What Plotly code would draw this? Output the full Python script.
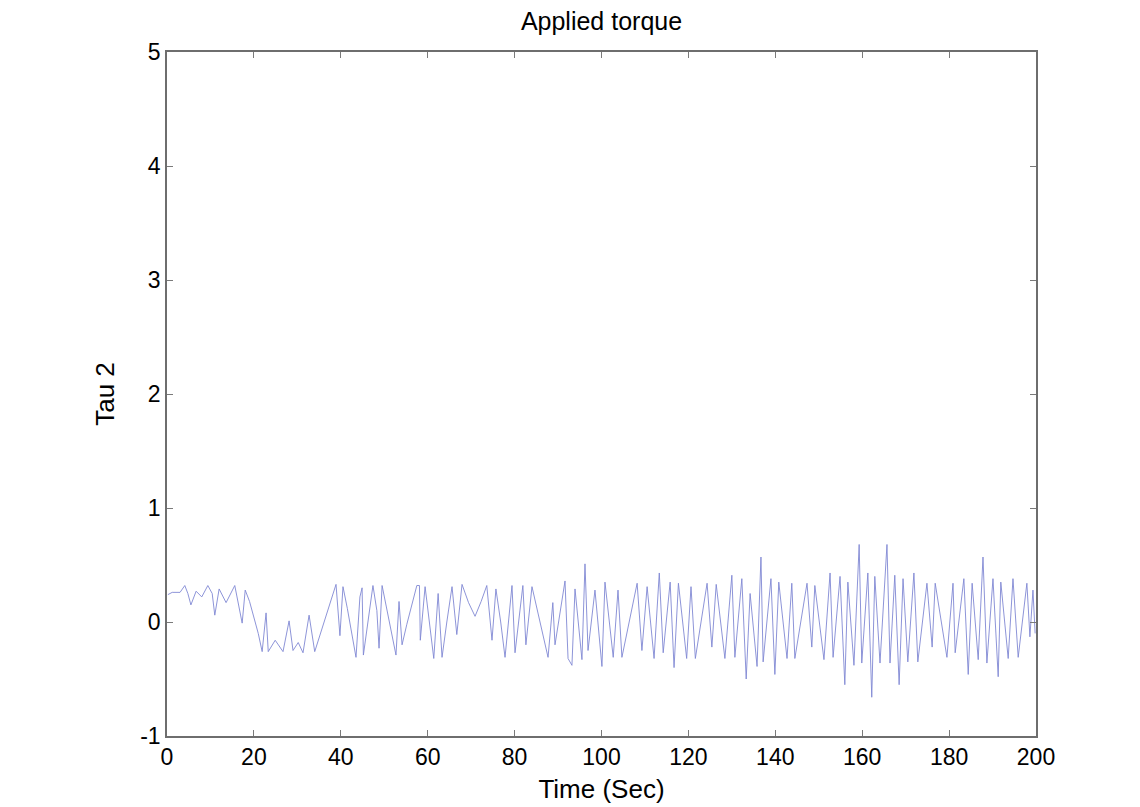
import plotly.graph_objects as go

# Hand-read vertices of the Tau 2 trace (time in s, torque)
time_s = [
    0.2, 1.2, 3.0, 4.1, 4.8, 5.5, 6.7, 8.0, 9.4, 10.4, 11.0, 12.0, 13.6, 15.6, 17.3, 18.0,
    19.0, 20.0, 21.0, 21.9, 22.8, 23.3, 24.9, 26.7, 28.1, 29.0, 30.2, 31.3, 32.7, 34.0,
    35.2, 36.4, 37.6, 38.9, 39.8, 40.5, 41.5, 42.5, 43.5, 44.4, 44.9, 45.2, 46.3, 47.4,
    48.3, 48.8, 49.5, 50.5, 51.6, 52.7, 53.4, 54.1, 55.2, 56.4, 57.5, 58.1, 58.3, 59.4,
    60.4, 61.4, 62.4, 63.3, 64.4, 65.6, 66.7, 67.9, 69.4, 70.9, 72.3, 73.6, 74.8, 75.7,
    76.8, 77.8, 79.4, 80.1, 81.9, 82.6, 84.0, 85.9, 87.7, 88.8, 89.3, 91.6, 92.3, 93.2,
    93.9, 95.5, 96.2, 96.9, 98.5, 100.1, 100.8, 102.7, 103.8, 104.7, 106.5, 108.2, 109.3,
    110.5, 112.1, 113.3, 114.2, 115.8, 116.7, 117.7, 119.6, 120.6, 121.6, 123.0, 124.3,
    125.4, 126.4, 128.4, 130.0, 130.7, 132.3, 133.3, 134.2, 135.8, 136.7, 137.2, 139.0,
    139.9, 140.8, 142.7, 143.8, 144.5, 146.0, 147.3, 148.4, 149.1, 151.2, 152.6, 153.3,
    154.9, 156.0, 156.7, 158.1, 159.3, 159.9, 161.3, 162.2, 162.9, 164.1, 165.7, 166.4,
    167.5, 168.5, 169.4, 170.5, 171.9, 172.8, 174.9, 176.1, 176.8, 179.5, 180.9, 181.4,
    183.4, 184.4, 185.3, 186.7, 187.8, 188.7, 190.1, 191.3, 191.9, 193.6, 194.7, 195.9,
    197.9, 198.6, 199.3, 199.8,
]
tau2 = [
    0.24, 0.26, 0.26, 0.32, 0.25, 0.15, 0.27, 0.22, 0.32, 0.25, 0.06, 0.29, 0.17, 0.32, -0.01, 0.28,
    0.18, 0.05, -0.10, -0.26, 0.08, -0.26, -0.16, -0.26, 0.01, -0.25, -0.18, -0.27, 0.06, -0.26,
    -0.12, 0.02, 0.18, 0.33, -0.12, 0.31, 0.12, -0.10, -0.31, 0.22, 0.30, -0.29, 0.02, 0.32,
    0.10, -0.23, 0.32, 0.12, -0.10, -0.29, 0.18, -0.20, -0.02, 0.16, 0.32, 0.32, -0.16, 0.31,
    0.00, -0.32, 0.25, -0.31, 0.00, 0.31, -0.11, 0.33, 0.17, 0.05, 0.18, 0.32, -0.16, 0.29,
    0.00, -0.31, 0.32, -0.27, 0.32, -0.20, 0.31, 0.00, -0.31, 0.17, -0.20, 0.36, -0.32, -0.38,
    0.29, -0.33, 0.51, -0.25, 0.28, -0.39, 0.35, -0.31, 0.28, -0.31, 0.02, 0.34, -0.25,
    0.31, -0.32, 0.43, -0.27, 0.35, -0.40, 0.34, -0.32, 0.31, -0.32, 0.02, 0.34,
    -0.22, 0.33, -0.32, 0.41, -0.31, 0.38, -0.50, 0.25, -0.39, 0.57, -0.35, 0.38,
    -0.46, 0.35, -0.32, 0.34, -0.32, 0.02, 0.34, -0.22, 0.32, -0.33, 0.43, -0.31,
    0.40, -0.55, 0.35, -0.38, 0.68, -0.36, 0.43, -0.66, 0.40, -0.36, 0.68, -0.36,
    0.41, -0.55, 0.38, -0.35, 0.43, -0.35, 0.34, -0.22, 0.34, -0.31, 0.34, -0.27,
    0.38, -0.46, 0.34, -0.33, 0.57, -0.36, 0.38, -0.48, 0.35, -0.32, 0.38, -0.31,
    0.34, -0.13, 0.28, -0.10,
]

x_ticks = [0, 20, 40, 60, 80, 100, 120, 140, 160, 180, 200]
y_ticks = [-1, 0, 1, 2, 3, 4, 5]

FONT = "Liberation Sans, Arial, sans-serif"

fig = go.Figure()
fig.add_trace(go.Scatter(
    x=time_s, y=tau2, mode="lines",
    line=dict(color="#8088d4", width=0.9),
    showlegend=False, hoverinfo="skip",
))

axis_common = dict(
    showgrid=False, zeroline=False, showline=True, linecolor="#6e6e6e", linewidth=1.5,
    mirror="allticks", ticks="inside", ticklen=6, tickcolor="#7a7a7a", tickwidth=1,
    tickfont=dict(family=FONT, size=23, color="black"),
)

fig.update_layout(
    width=1140, height=807,
    margin=dict(l=159, r=112, t=44, b=79),
    paper_bgcolor="white", plot_bgcolor="white",
    title=dict(text="Applied torque", x=0.5, xref="paper", xanchor="center",
               y=0.983, yanchor="middle",
               font=dict(family=FONT, size=25, color="black")),
    xaxis=dict(range=[0, 200], tickvals=x_ticks, ticktext=[str(v) for v in x_ticks],
               title=dict(text="Time (Sec)", standoff=10,
                          font=dict(family=FONT, size=26, color="black")),
               **axis_common),
    yaxis=dict(range=[-1, 5], tickvals=y_ticks, ticktext=[str(v) for v in y_ticks],
               title=dict(text="Tau 2", standoff=18,
                          font=dict(family=FONT, size=26, color="black")),
               **axis_common),
)

fig.write_html("out.html")
